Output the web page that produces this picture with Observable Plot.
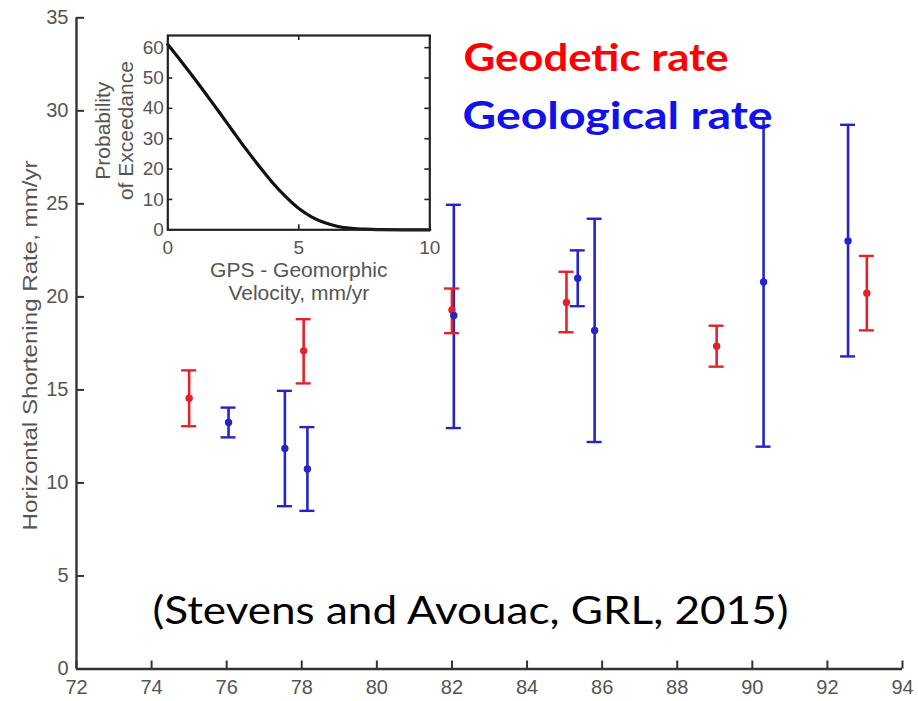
<!DOCTYPE html>
<html>
<head>
<meta charset="utf-8">
<script src="https://cdn.jsdelivr.net/npm/d3@7"></script>
<script src="https://cdn.jsdelivr.net/npm/@observablehq/plot@0.6"></script>
<style>
  body { margin: 0; background: #fff; }
  #wrap { position: relative; width: 918px; height: 701px; overflow: hidden; background: #fff; }
  #wrap svg { position: absolute; left: 0; top: 0; }
</style>
</head>
<body>
<div id="wrap"></div>
<script>
// Geodetic (GPS) shortening rates across the Himalaya, mm/yr, by longitude (°E)
const geodLon  = [75.0, 78.05, 82.0, 85.05, 89.05, 93.05];
const geodRate = [14.55, 17.1, 19.3, 19.7, 17.35, 20.2];
const geodLo   = [13.05, 15.35, 18.05, 18.1, 16.25, 18.2];
const geodHi   = [16.05, 18.8, 20.45, 21.35, 18.45, 22.2];

// Geological (geomorphic) shortening rates, mm/yr
const geolLon  = [76.05, 77.55, 78.15, 82.05, 85.35, 85.8, 90.3, 92.55];
const geolRate = [13.25, 11.85, 10.75, 19.0, 21.0, 18.2, 20.8, 23.0];
const geolLo   = [12.45, 8.75, 8.5, 12.95, 19.5, 12.2, 11.95, 16.8];
const geolHi   = [14.05, 14.95, 13.0, 24.95, 22.5, 24.2, 29.6, 29.25];

// Main axes ticks
const xTicks = [72, 74, 76, 78, 80, 82, 84, 86, 88, 90, 92, 94];
const yTicks = [0, 5, 10, 15, 20, 25, 30, 35];

// Inset: probability of exceedance vs GPS - geomorphic velocity difference
const diffVel    = [0, 0.5, 1, 1.5, 2, 2.5, 3, 3.5, 4, 4.5, 5, 5.5, 6, 6.5, 7, 7.5, 8, 9, 10];
const exceedProb = [61, 55.6, 50, 44.2, 38.3, 32.3, 26.4, 20.8, 15.5, 10.9, 7.0, 4.2, 2.3, 1.1, 0.5, 0.2, 0.06, 0, 0];
const insetXTicks = [0, 5, 10];
const insetYTicks = [0, 10, 20, 30, 40, 50, 60];

const geodetic = geodLon.map((lon, i) => ({lon, rate: geodRate[i], lo: geodLo[i], hi: geodHi[i]}));
const geological = geolLon.map((lon, i) => ({lon, rate: geolRate[i], lo: geolLo[i], hi: geolHi[i]}));
const curve = diffVel.map((v, i) => ({v, p: exceedProb[i]}));

const RED = "#e3232a";
const BLUE = "#2525c6";
const AXIS = "#333";
const capHalf = 0.2; // half-width of error-bar caps, in degrees of longitude

const W = 918, H = 701;
const mL = 76, mR = 16, mT = 17.3, mB = 32.5;
const frameW = W - mL - mR, frameH = H - mT - mB;

const errorBars = (data, color) => [
  Plot.ruleX(data, {x: "lon", y1: "lo", y2: "hi", stroke: color, strokeWidth: 2.6}),
  Plot.ruleY(data, {y: "hi", x1: d => d.lon - capHalf, x2: d => d.lon + capHalf, stroke: color, strokeWidth: 2.4}),
  Plot.ruleY(data, {y: "lo", x1: d => d.lon - capHalf, x2: d => d.lon + capHalf, stroke: color, strokeWidth: 2.4})
];

const main = Plot.plot({
  width: W, height: H,
  marginLeft: mL, marginRight: mR, marginTop: mT, marginBottom: mB,
  style: {fontFamily: "'Liberation Sans', Arial, sans-serif", fontSize: "20px", color: "#555", background: "white"},
  x: {domain: [72, 94]},
  y: {domain: [0, 35]},
  marks: [
    Plot.axisX(xTicks, {tickSize: 0, tickPadding: 11, fontSize: 20, label: null}),
    Plot.axisY(yTicks, {tickSize: 0, tickPadding: 8, fontSize: 20, label: null}),
    Plot.tickY(yTicks, {y: d => d, insetRight: frameW - 8, stroke: AXIS, strokeWidth: 2}),
    Plot.tickX(xTicks, {x: d => d, insetTop: frameH - 8, stroke: AXIS, strokeWidth: 2}),
    Plot.ruleX([72], {stroke: AXIS, strokeWidth: 2.4}),
    Plot.ruleY([0], {stroke: AXIS, strokeWidth: 2.4}),
    Plot.text(["Horizontal Shortening Rate, mm/yr"], {
      frameAnchor: "left", textAnchor: "middle", rotate: -90, dx: -46, dy: 2, fontSize: 21, fill: "#555"
    }),
    ...errorBars(geological, BLUE),
    ...errorBars(geodetic, RED),
    Plot.dot(geodetic, {x: "lon", y: "rate", r: 3.7, fill: RED}),
    Plot.dot(geological, {x: "lon", y: "rate", r: 3.7, fill: BLUE}),
    Plot.text(["Geodetic rate"], {
      frameAnchor: "top-left", dx: 387, dy: 52.7, textAnchor: "start", lineAnchor: "bottom",
      fontFamily: "Lato, sans-serif", fontWeight: "bold", fontSize: 38, fill: "#ff0000"
    }),
    Plot.text(["Geological rate"], {
      frameAnchor: "top-left", dx: 386, dy: 110.7, textAnchor: "start", lineAnchor: "bottom",
      fontFamily: "Lato, sans-serif", fontWeight: "bold", fontSize: 38, fill: "#1111ee"
    }),
    Plot.text(["(Stevens and Avouac, GRL, 2015)"], {
      frameAnchor: "top-left", dx: 76, dy: 605.7, textAnchor: "start", lineAnchor: "bottom",
      fontFamily: "Lato, sans-serif", fontSize: 39, fill: "#000"
    })
  ]
});

// Inset panel
const iW = 366, iH = 310;
const imL = 83.3, imR = 20.7, imT = 15, imB = iH - imT - 194.3;
const ifw = iW - imL - imR, ifh = iH - imT - imB;

const inset = Plot.plot({
  width: iW, height: iH,
  marginLeft: imL, marginRight: imR, marginTop: imT, marginBottom: imB,
  style: {fontFamily: "'Liberation Sans', Arial, sans-serif", fontSize: "19px", color: "#555", background: "transparent"},
  x: {domain: [0, 10]},
  y: {domain: [0, 64]},
  marks: [
    Plot.axisY(insetYTicks, {tickSize: 0, tickPadding: 4, label: null}),
    Plot.axisX(insetXTicks, {tickSize: 0, tickPadding: 11, label: null}),
    Plot.tickY(insetYTicks, {y: d => d, insetRight: ifw - 5, stroke: "#222", strokeWidth: 1.6}),
    Plot.tickY(insetYTicks, {y: d => d, insetLeft: ifw - 5, stroke: "#222", strokeWidth: 1.6}),
    Plot.tickX(insetXTicks, {x: d => d, insetTop: ifh - 5, stroke: "#222", strokeWidth: 1.6}),
    Plot.tickX(insetXTicks, {x: d => d, insetBottom: ifh - 5, stroke: "#222", strokeWidth: 1.6}),
    Plot.line(curve, {x: "v", y: "p", curve: "monotone-x", stroke: "#111", strokeWidth: 3.2}),
    Plot.frame({stroke: "#222", strokeWidth: 2.2}),
    Plot.text(["GPS - Geomorphic\nVelocity, mm/yr"], {
      frameAnchor: "bottom", textAnchor: "middle", dy: 30.7, lineAnchor: "top", lineHeight: 1.1, fontSize: 21, fill: "#555"
    }),
    Plot.text(["Probability\nof Exceedance"], {
      frameAnchor: "left", textAnchor: "middle", rotate: -90, dx: -53.8, dy: -2, lineAnchor: "middle", lineHeight: 1.1, fontSize: 21, fill: "#555"
    })
  ]
});
inset.style.left = "84px";
inset.style.top = "20px";

// Stretch the slide-style annotations to their set widths
const textWidths = {
  "Geodetic rate": 265,
  "Geological rate": 310,
  "(Stevens and Avouac, GRL, 2015)": 636,
  "Horizontal Shortening Rate, mm/yr": 370
};
d3.select(main).selectAll("text").each(function() {
  const w = textWidths[this.textContent];
  if (w) {
    this.setAttribute("textLength", w);
    this.setAttribute("lengthAdjust", "spacingAndGlyphs");
  }
});

const wrap = document.getElementById("wrap");
wrap.appendChild(main);
wrap.appendChild(inset);
</script>
</body>
</html>
